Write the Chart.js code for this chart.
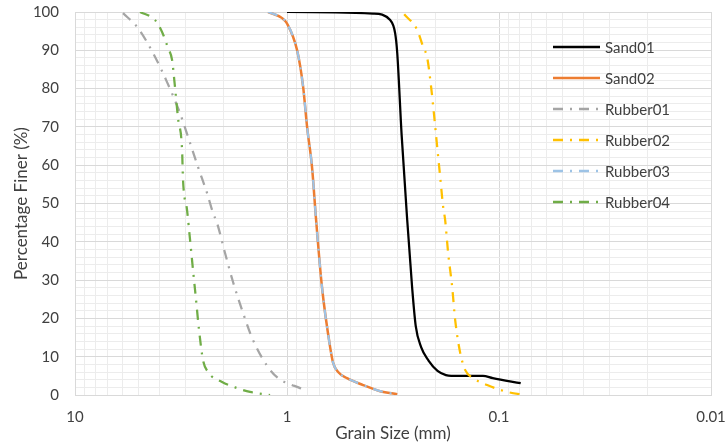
<!DOCTYPE html>
<html>
<head>
<meta charset="utf-8">
<script src="https://cdn.jsdelivr.net/npm/chart.js@4.4.1/dist/chart.umd.min.js"></script>
<style>
  html, body { margin: 0; padding: 0; background: #fff; }
  #wrap { width: 725px; height: 446px; }
</style>
</head>
<body>
<div id="wrap"><canvas id="chart1" width="725" height="446"></canvas></div>
<script>
// Grain size distribution data (size in mm, percent finer)
const sand01Size  = [1.0, 0.393, 0.326, 0.309, 0.302, 0.288, 0.271, 0.257, 0.247, 0.233, 0.215, 0.195, 0.178, 0.168, 0.119, 0.107, 0.079];
const sand01Finer = [100, 99.6, 97.9, 94.5, 89.3, 68, 45.7, 28.2, 18, 12.5, 9.0, 6.3, 5.2, 5.0, 5.0, 4.4, 3.1];

const sand02Size  = [1.228, 1.054, 1.0, 0.896, 0.839, 0.804, 0.762, 0.729, 0.684, 0.626, 0.606, 0.574, 0.521, 0.4375, 0.3636, 0.302];
const sand02Finer = [100, 98.4, 97, 90, 80.4, 70, 59.5, 45.7, 28.2, 12.5, 8.4, 6, 4.4, 2.6, 1, 0.2];

const rubber01Size  = [5.935, 5.044, 4.285, 3.68, 3.197, 2.93, 2.627, 2.382, 2.232, 2.138, 1.959, 1.797, 1.629, 1.461, 1.241, 1.102, 0.977, 0.867, 0.804];
const rubber01Finer = [99.7, 95.8, 89.3, 81.7, 73.6, 67.4, 59.5, 52.7, 47.5, 44.9, 37, 29.5, 22.2, 14.9, 7.6, 4.4, 2.9, 1.8, 0.8];

const rubber02Size  = [0.280, 0.243, 0.228, 0.218, 0.209, 0.202, 0.1957, 0.1894, 0.1834, 0.1795, 0.1737, 0.1663, 0.161, 0.1524, 0.1443, 0.1323, 0.1137, 0.0915, 0.0752];
const rubber02Finer = [99.4, 95.3, 90.9, 88, 80.4, 72.6, 64.8, 56.9, 49.1, 45.7, 37, 28.2, 19.6, 11, 6.5, 4.4, 2.6, 0.8, 0];

const rubber03Size  = [1.228, 1.054, 1.0, 0.896, 0.839, 0.804, 0.762, 0.729, 0.684, 0.626, 0.606, 0.574, 0.521, 0.4375, 0.3636, 0.302];
const rubber03Finer = [100, 98.4, 97, 90, 80.4, 70, 59.5, 45.7, 28.2, 12.5, 8.4, 6, 4.4, 2.6, 1, 0.2];

const rubber04Size  = [4.935, 4.194, 3.885, 3.640, 3.485, 3.373, 3.266, 3.126, 3.093, 2.961, 2.866, 2.775, 2.685, 2.600, 2.489, 2.357, 2.024, 1.720, 1.493, 1.202];
const rubber04Finer = [100, 97.9, 94.8, 90.6, 87.5, 80.2, 72.3, 64, 56.1, 48.3, 40.5, 32.6, 24.8, 17, 9.1, 6, 3.4, 1.8, 0.8, 0];

const xTickValues = [];
[0.01, 0.1, 1].forEach(function(d){
    for (let k = 1; k < 10; k++) xTickValues.push(+(d * k).toPrecision(3));
});
xTickValues.push(10);

const FONT = "Lato, sans-serif";
const FSIZE = 15;
const TSIZE = 17;
const TEXT = '#404040';
const MAJOR = '#d9d9d9';
const MINOR = '#ececec';
const dashDot = [10, 7, 2, 7];

function pts(sizes, finer){
    return sizes.map(function(s, i){ return {x: s, y: finer[i]}; });
}
function isDecade(v){
    const l = Math.log10(v);
    return Math.abs(l - Math.round(l)) < 1e-6;
}

var datasets = [
    {label: 'Sand01',   data: pts(sand01Size, sand01Finer),     borderColor: '#000000', borderWidth: 2.25, borderDash: [], order: 5},
    {label: 'Sand02',   data: pts(sand02Size, sand02Finer),     borderColor: '#ED7D31', borderWidth: 2.5,  borderDash: [], order: 6},
    {label: 'Rubber01', data: pts(rubber01Size, rubber01Finer), borderColor: '#A5A5A5', borderWidth: 2.25, borderDash: dashDot, order: 4},
    {label: 'Rubber02', data: pts(rubber02Size, rubber02Finer), borderColor: '#FFC000', borderWidth: 2.25, borderDash: dashDot, order: 3},
    {label: 'Rubber03', data: pts(rubber03Size, rubber03Finer), borderColor: '#9DC3E6', borderWidth: 2.25, borderDash: dashDot, order: 1},
    {label: 'Rubber04', data: pts(rubber04Size, rubber04Finer), borderColor: '#70AD47', borderWidth: 2.25, borderDash: dashDot, order: 2}
];
datasets.forEach(function(d){
    d.pointRadius = 0;
    d.cubicInterpolationMode = 'monotone';
    d.fill = false;
    d.borderCapStyle = 'butt';
});

// legend drawn inside the plot area, like the original
const insideLegend = {
    id: 'insideLegend',
    afterDraw: function(chart){
        const c = chart.ctx;
        const ds = chart.data.datasets;
        c.save();
        c.font = FSIZE + 'px ' + FONT;
        c.textBaseline = 'middle';
        for (let i = 0; i < ds.length; i++){
            const y = 47 + i * 31;
            c.beginPath();
            c.strokeStyle = ds[i].borderColor;
            c.lineWidth = 2.5;
            c.setLineDash(ds[i].borderDash);
            c.moveTo(553, y);
            c.lineTo(600, y);
            c.stroke();
            c.setLineDash([]);
            c.fillStyle = TEXT;
            c.fillText(ds[i].label, 605, y + 1);
        }
        c.restore();
    }
};

// keep the plot box where the original has it
function noEdgePadding(scale){
    scale.paddingTop = 0;
    scale.paddingBottom = 0;
    scale.paddingLeft = 0;
    scale.paddingRight = 0;
}

const ctx1 = document.getElementById('chart1').getContext('2d');
const chart1 = new Chart(ctx1, {
    type: 'line',
    data: {datasets: datasets},
    plugins: [insideLegend],
    options: {
        responsive: false,
        animation: false,
        layout: {padding: {top: 12, right: 14, left: 0, bottom: 0}},
        plugins: {legend: {display: false}, tooltip: {enabled: false}},
        scales: {
            x: {
                type: 'logarithmic',
                reverse: true,
                min: 0.01,
                max: 10,
                afterBuildTicks: function(scale){
                    scale.ticks = xTickValues.map(function(v){ return {value: v}; });
                },
                afterFit: function(scale){ scale.height = 51; noEdgePadding(scale); },
                grid: {
                    color: function(c){ return (c.tick && isDecade(c.tick.value)) ? MAJOR : MINOR; },
                    lineWidth: 1,
                    drawTicks: false
                },
                border: {color: MAJOR},
                ticks: {
                    autoSkip: false,
                    maxRotation: 0,
                    padding: 13,
                    color: TEXT,
                    font: {family: FONT, size: FSIZE},
                    callback: function(v){
                        if (!isDecade(v)) return '';
                        return String(+v.toPrecision(2));
                    }
                },
                title: {
                    display: true,
                    text: 'Grain Size (mm)',
                    color: TEXT,
                    font: {family: FONT, size: TSIZE},
                    padding: {top: 0, bottom: 2}
                }
            },
            y: {
                min: 0,
                max: 100,
                afterFit: function(scale){ scale.width = 75; noEdgePadding(scale); },
                grid: {
                    color: function(c){ return (c.tick && c.tick.value % 10 === 0) ? MAJOR : MINOR; },
                    lineWidth: 1,
                    drawTicks: false
                },
                border: {color: MAJOR},
                ticks: {
                    stepSize: 2,
                    autoSkip: false,
                    padding: 16,
                    color: TEXT,
                    font: {family: FONT, size: FSIZE},
                    callback: function(v){ return v % 10 === 0 ? v : ''; }
                },
                title: {
                    display: true,
                    text: 'Percentage Finer (%)',
                    color: TEXT,
                    font: {family: FONT, size: TSIZE},
                    padding: {top: 11, bottom: 0}
                }
            }
        }
    }
});
</script>
</body>
</html>
